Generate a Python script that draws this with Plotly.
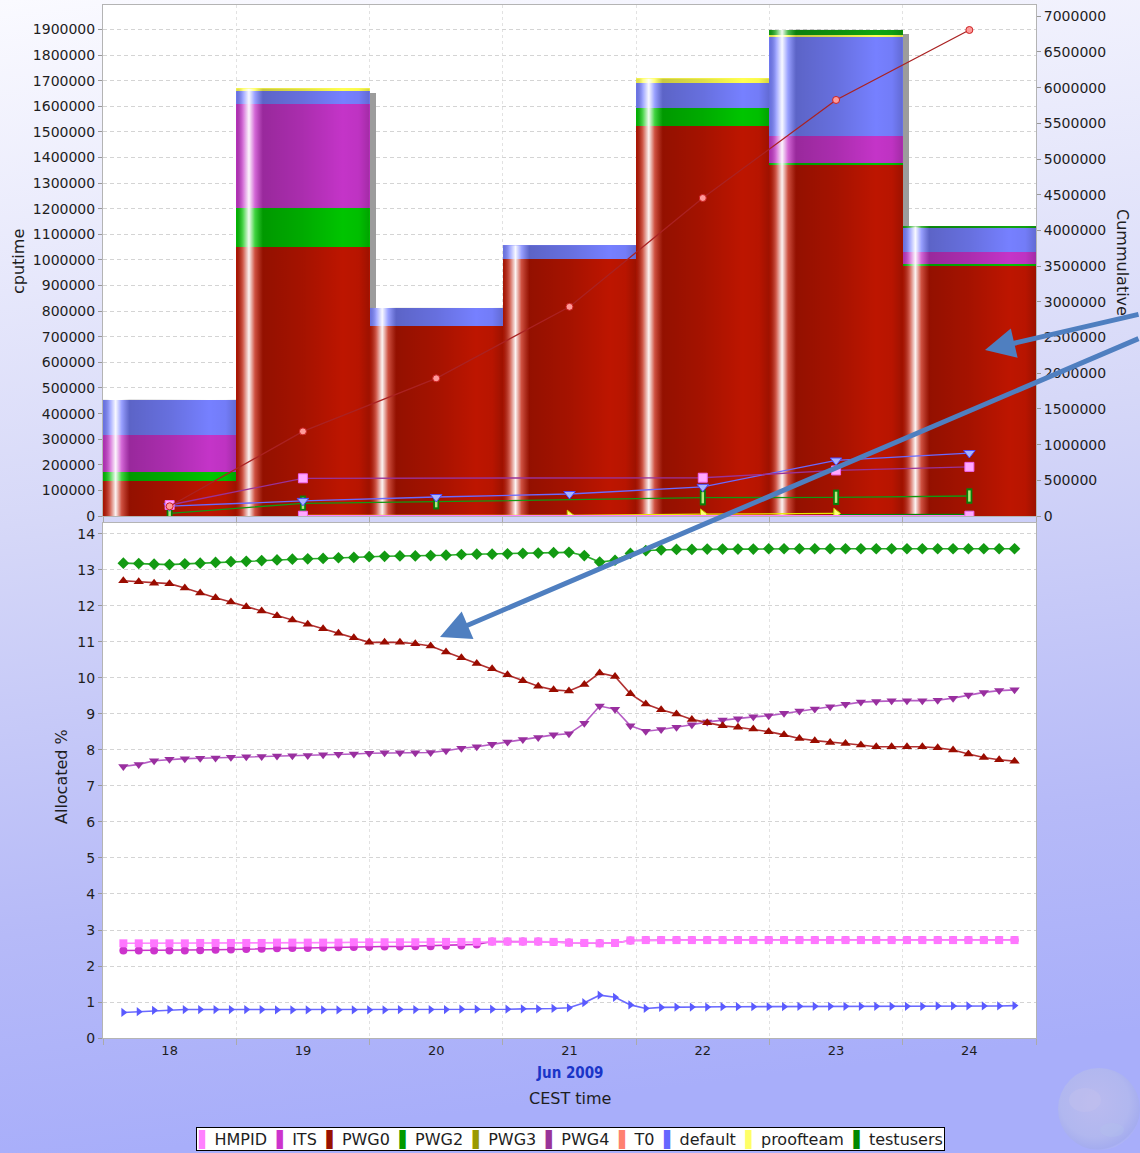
import base64
import numpy as np
import pandas as pd
import plotly.graph_objects as go

# ---------------- data ----------------
days = ['2009-06-18', '2009-06-19', '2009-06-20', '2009-06-21',
        '2009-06-22', '2009-06-23', '2009-06-24']
day_labels = ['18', '19', '20', '21', '22', '23', '24']

# daily cputime per group (stacked bars, left axis)
cpu_PWG0 = [136000, 1049000, 743000, 1002000, 1524000, 1373000, 980000]
cpu_PWG2 = [36000, 155000, 0, 0, 69000, 5000, 3000]
cpu_PWG4 = [146000, 406000, 0, 0, 0, 107000, 49000]
cpu_default = [137000, 52000, 70000, 56000, 99000, 385000, 94000]
cpu_proofteam = [0, 8000, 0, 0, 17000, 10000, 0]
cpu_testusers = [0, 0, 0, 0, 0, 20000, 6000]

# cumulative cputime (lines, right axis)
cum_PWG0 = [136000, 1185000, 1928000, 2930000, 4454000, 5827000, 6807000]
cum_PWG4 = [154000, 528000, None, None, 536000, 638000, 688000]
cum_default = [137000, 212000, 266000, 308000, 409000, 778000, 882000]
cum_PWG2 = [36000, 178000, 200000, None, 256000, 262000, 280000]
cum_proofteam = [None, 8000, None, 9000, 26000, 36000, None]
cum_testusers = [None, None, None, None, None, 20000, 24000]
cum_HMPID = [None, 4000, None, None, None, None, 4000]

# allocated share (%), one sample every ~2h46m
t_start = '2009-06-17 15:40'
n_samples = 59
alloc_PWG2 = [13.19, 13.18, 13.16, 13.15, 13.17, 13.19, 13.21, 13.23, 13.24, 13.26,
              13.28, 13.30, 13.31, 13.32, 13.34, 13.35, 13.37, 13.38, 13.39, 13.39,
              13.40, 13.41, 13.43, 13.44, 13.44, 13.45, 13.46, 13.47, 13.48, 13.49,
              13.40, 13.22, 13.27, 13.46, 13.54, 13.56, 13.57, 13.57, 13.58, 13.58,
              13.58, 13.58, 13.59, 13.59, 13.59, 13.59, 13.59, 13.59, 13.59, 13.59,
              13.59, 13.59, 13.59, 13.59, 13.59, 13.59, 13.59, 13.59, 13.59]
alloc_PWG0 = [12.70, 12.67, 12.63, 12.62, 12.50, 12.36, 12.23, 12.11, 11.98, 11.86,
              11.73, 11.61, 11.49, 11.37, 11.24, 11.12, 10.99, 10.99, 10.99, 10.95,
              10.89, 10.72, 10.56, 10.40, 10.26, 10.09, 9.92, 9.77, 9.67, 9.64,
              9.82, 10.14, 10.04, 9.56, 9.28, 9.12, 9.00, 8.85, 8.76, 8.67,
              8.63, 8.58, 8.51, 8.42, 8.32, 8.26, 8.21, 8.18, 8.14, 8.09,
              8.09, 8.09, 8.09, 8.06, 8.00, 7.89, 7.79, 7.73, 7.69]
alloc_PWG4 = [7.54, 7.60, 7.70, 7.74, 7.76, 7.77, 7.78, 7.80, 7.81, 7.82,
              7.83, 7.84, 7.85, 7.87, 7.88, 7.89, 7.91, 7.92, 7.92, 7.92,
              7.93, 7.98, 8.05, 8.09, 8.16, 8.22, 8.29, 8.35, 8.42, 8.45,
              8.74, 9.22, 9.13, 8.67, 8.52, 8.57, 8.63, 8.70, 8.78, 8.83,
              8.87, 8.92, 8.95, 9.02, 9.08, 9.14, 9.20, 9.27, 9.33, 9.35,
              9.37, 9.37, 9.37, 9.38, 9.44, 9.53, 9.60, 9.65, 9.67]
alloc_HMPID = [2.63, 2.63, 2.63, 2.63, 2.63, 2.64, 2.64, 2.64, 2.64, 2.64,
               2.65, 2.65, 2.65, 2.65, 2.65, 2.66, 2.66, 2.66, 2.66, 2.66,
               2.67, 2.67, 2.67, 2.67, 2.68, 2.68, 2.68, 2.68, 2.67, 2.65,
               2.64, 2.63, 2.64, 2.71, 2.72, 2.72, 2.72, 2.72, 2.72, 2.72,
               2.72, 2.72, 2.72, 2.72, 2.72, 2.72, 2.72, 2.72, 2.72, 2.72,
               2.72, 2.72, 2.72, 2.72, 2.72, 2.72, 2.72, 2.72, 2.72]
alloc_ITS = [2.43, 2.43, 2.43, 2.43, 2.43, 2.44, 2.45, 2.46, 2.47, 2.48,
             2.49, 2.50, 2.50, 2.51, 2.52, 2.53, 2.53, 2.54, 2.54, 2.55,
             2.55, 2.56, 2.57, 2.60, 2.68, 2.68, 2.68, 2.68, 2.67, 2.65,
             2.64, 2.63, 2.64, 2.71, 2.72, 2.72, 2.72, 2.72, 2.72, 2.72,
             2.72, 2.72, 2.72, 2.72, 2.72, 2.72, 2.72, 2.72, 2.72, 2.72,
             2.72, 2.72, 2.72, 2.72, 2.72, 2.72, 2.72, 2.72, 2.72]
alloc_default = [0.71, 0.73, 0.77, 0.79, 0.79, 0.79, 0.79, 0.79, 0.79, 0.79,
                 0.78, 0.78, 0.78, 0.78, 0.78, 0.78, 0.78, 0.78, 0.79, 0.79,
                 0.79, 0.79, 0.80, 0.80, 0.80, 0.80, 0.81, 0.81, 0.82, 0.84,
                 0.98, 1.19, 1.13, 0.92, 0.82, 0.85, 0.86, 0.86, 0.86, 0.87,
                 0.87, 0.87, 0.87, 0.87, 0.88, 0.88, 0.88, 0.88, 0.88, 0.88,
                 0.88, 0.88, 0.88, 0.89, 0.89, 0.89, 0.89, 0.89, 0.90]

legend_names = ['HMPID', 'ITS', 'PWG0', 'PWG2', 'PWG3', 'PWG4', 'T0',
                'default', 'proofteam', 'testusers']
legend_colors = ['#ff80ff', '#cc33cc', '#991100', '#009900', '#999900',
                 '#993399', '#ff8070', '#6666ff', '#ffff66', '#008800']

# ---------------- layout geometry ----------------
W, H = 1140, 1153
ML, MR, MT, MB = 103, 104, 5, 115
PW, PH = W - ML - MR, H - MT - MB


def px(xp):
    return (xp - ML) / PW


def py(yp):
    return (H - MB - yp) / PH


top_dom = [py(516), 1.0]
bot_dom = [0.0, py(523)]

day_ts = pd.to_datetime(days)
half = pd.Timedelta(hours=12)
xrange_ = [str(day_ts[0] - half), str(day_ts[-1] + half)]
sample_t = pd.date_range(t_start, periods=n_samples, freq='166min')

fig = go.Figure()

# stacked bars (explicit bases, overlay mode)
stack = [
    ('PWG0', cpu_PWG0, '#bd1500'),
    ('PWG2', cpu_PWG2, '#00c400'),
    ('PWG4', cpu_PWG4, '#c434c8'),
    ('default', cpu_default, '#7680ff'),
    ('proofteam', cpu_proofteam, '#ffff50'),
    ('testusers', cpu_testusers, '#10a410'),
]
totals = np.sum([np.array(s[1]) for s in stack], axis=0)
day_ms = 86400000

# drop shadow
fig.add_trace(go.Bar(
    x=days, y=totals - 18000, base=0, width=day_ms,
    offset=-day_ms / 2 + day_ms * 6 / 133.3,
    marker=dict(color='#9c9c9c', line=dict(width=0)),
    xaxis='x', yaxis='y', hoverinfo='skip', showlegend=False))

base = np.zeros(len(days))
for name, vals, col in stack:
    v = np.array(vals, dtype=float)
    fig.add_trace(go.Bar(
        x=days, y=v, base=base.copy(), width=day_ms, name=name,
        marker=dict(color=col, line=dict(width=0)),
        xaxis='x', yaxis='y', showlegend=False))
    base = base + v

# cylindrical shading on each bar
shade = [[0.0, 'rgba(0,0,0,0.12)'],
         [0.05, 'rgba(255,255,255,0.30)'],
         [0.095, 'rgba(255,255,255,0.95)'],
         [0.14, 'rgba(255,255,255,0.25)'],
         [0.20, 'rgba(0,0,0,0.22)'],
         [0.50, 'rgba(0,0,0,0.13)'],
         [0.80, 'rgba(0,0,0,0.0)'],
         [0.92, 'rgba(0,0,0,0.03)'],
         [1.0, 'rgba(0,0,0,0.17)']]
for d, tot in zip(day_ts, totals):
    l, r = d - half, d + half
    fig.add_trace(go.Scatter(
        x=[l, r, r, l, l], y=[0, 0, tot, tot, 0], mode='lines',
        line=dict(width=0), fill='toself',
        fillgradient=dict(type='horizontal', colorscale=shade),
        xaxis='x', yaxis='y', hoverinfo='skip', showlegend=False))

# cumulative lines (right axis)
cum_specs = [
    (cum_testusers, '#008800', 'square', '#55cc55', '#008800', 6, 1),
    (cum_proofteam, '#e8e800', 'triangle-right', '#ffff70', '#c8c800', 9, 1),
    (cum_PWG2, '#119911', 'line-ns-open', '#0a800a', '#0a800a', 11, 6),
    (cum_default, '#6a6aff', 'triangle-down', '#a8b4ff', '#4a4aff', 10, 1),
    (cum_PWG4, '#993399', 'square', '#ffa8ff', '#ee66ee', 9, 1),
    (cum_HMPID, '#ff80ff', 'square', '#ffa8ff', '#ee66ee', 9, 1),
    (cum_PWG0, '#aa2222', 'circle', '#ff9a9a', '#cc2222', 7, 1),
]
for vals, lc, sym, mc, mlc, ms, mlw in cum_specs:
    fig.add_trace(go.Scatter(
        x=days, y=vals, mode='lines+markers', connectgaps=True,
        line=dict(color=lc, width=1.3),
        marker=dict(symbol=sym, size=ms, color=mc, line=dict(color=mlc, width=mlw)),
        xaxis='x', yaxis='y2', hoverinfo='skip', showlegend=False))
    if sym == 'line-ns-open':
        # light inner fill of the bar-shaped marker
        fig.add_trace(go.Scatter(
            x=days, y=vals, mode='markers',
            marker=dict(symbol=sym, size=ms - 3, line=dict(color='#7de87d', width=2.5)),
            xaxis='x', yaxis='y2', hoverinfo='skip', showlegend=False))

# allocated % lines (bottom)
alloc_specs = [
    (alloc_ITS, '#cc33cc', 'circle', '#cc33cc', 8),
    (alloc_HMPID, '#ff88ff', 'square', '#ff77ff', 8),
    (alloc_default, '#6a6aff', 'triangle-right', '#5a5aff', 8),
    (alloc_PWG4, '#b55cc4', 'triangle-down', '#992f9f', 9),
    (alloc_PWG0, '#b03030', 'triangle-up', '#9a0c00', 9),
    (alloc_PWG2, '#2aaa2a', 'diamond', '#129a12', 9),
]
for vals, lc, sym, mc, ms in alloc_specs:
    fig.add_trace(go.Scatter(
        x=sample_t, y=vals, mode='lines+markers',
        line=dict(color=lc, width=1.6),
        marker=dict(symbol=sym, size=ms, color=mc, line=dict(width=0)),
        xaxis='x2', yaxis='y3', hoverinfo='skip', showlegend=False))

# ---------------- background image (paper gradient + globe) ----------------
svg = (
    f'<svg xmlns="http://www.w3.org/2000/svg" width="{W}" height="{H}">'
    '<defs>'
    '<linearGradient id="g" x1="0" y1="0" x2="0.12" y2="1">'
    '<stop offset="0" stop-color="#fafaff"/>'
    '<stop offset="0.45" stop-color="#d6d8f8"/>'
    '<stop offset="0.8" stop-color="#b6baf8"/>'
    '<stop offset="1" stop-color="#a8aefa"/>'
    '</linearGradient>'
    '<radialGradient id="b" cx="0.45" cy="0.42" r="0.6">'
    '<stop offset="0" stop-color="#bcbcee"/>'
    '<stop offset="0.7" stop-color="#b2b8ee"/>'
    '<stop offset="0.95" stop-color="#a4acee"/>'
    '<stop offset="1" stop-color="#b4baf6"/>'
    '</radialGradient>'
    '</defs>'
    f'<rect width="{W}" height="{H}" fill="url(#g)"/>'
    '<circle cx="1099" cy="1109" r="41" fill="url(#b)" opacity="0.9"/>'
    '<ellipse cx="1085" cy="1100" rx="16" ry="12" fill="#c6c4ee" opacity="0.35"/>'
    '<ellipse cx="1112" cy="1130" rx="12" ry="7" fill="#b4c4ea" opacity="0.3"/>'
    '</svg>')
svg_uri = 'data:image/svg+xml;base64,' + base64.b64encode(svg.encode()).decode()

tickfont = dict(family='DejaVu Sans', size=14, color='#1e1e1e')
grid = dict(showgrid=True, gridcolor='#d4d4d4', griddash='4px,3px', gridwidth=1)
vminor = dict(tick0=str(day_ts[0] - half), dtick=day_ms, ticks='outside',
              ticklen=6, tickcolor='#aaaaaa', showgrid=True,
              gridcolor='#e2e2e2', griddash='dot')

fig.update_layout(
    width=W, height=H, barmode='overlay', bargap=0,
    margin=dict(l=ML, r=MR, t=MT, b=MB),
    paper_bgcolor='#c8ccf8', plot_bgcolor='rgba(0,0,0,0)',
    showlegend=False, hovermode=False,
    images=[dict(source=svg_uri, xref='paper', yref='paper',
                 x=px(0), y=py(0), sizex=W / PW, sizey=H / PH,
                 xanchor='left', yanchor='top', sizing='stretch',
                 layer='below')],
    shapes=[
        dict(type='rect', xref='x domain', yref='y domain', x0=0, x1=1, y0=0, y1=1,
             fillcolor='white', line=dict(width=0), layer='below'),
        dict(type='rect', xref='x2 domain', yref='y3 domain', x0=0, x1=1, y0=0, y1=1,
             fillcolor='white', line=dict(width=0), layer='below'),
    ],
    xaxis=dict(domain=[0, 1], anchor='y', type='date', range=xrange_,
               tickvals=days, ticktext=['' for _ in day_labels], ticks='',
               showgrid=False, minor=vminor, showline=True, linecolor='#b4b4b4',
               mirror=True, zeroline=False),
    yaxis=dict(domain=top_dom, range=[0, 1996000], dtick=100000, tickformat='d',
               ticks='outside', ticklen=4, tickcolor='#999999', tickfont=tickfont,
               showline=True, linecolor='#b4b4b4', mirror=True, zeroline=False,
               **grid),
    yaxis2=dict(overlaying='y', side='right', range=[0, 7157000], dtick=500000,
                tickformat='d', ticks='outside', ticklen=4, tickcolor='#999999',
                tickfont=tickfont, showgrid=False, zeroline=False),
    xaxis2=dict(domain=[0, 1], anchor='y3', type='date', range=xrange_,
                tickvals=days, ticktext=day_labels, ticks='', showgrid=False,
                minor=vminor, tickfont=dict(family='DejaVu Sans', size=13, color='#1e1e1e'),
                showline=True, linecolor='#b4b4b4', mirror=True, zeroline=False),
    yaxis3=dict(domain=bot_dom, anchor='x2', range=[0, 14.305], dtick=1,
                ticks='outside', ticklen=4, tickcolor='#999999', tickfont=tickfont,
                showline=True, linecolor='#b4b4b4', mirror=True, zeroline=False,
                **grid),
)

# ---------------- texts ----------------
title_font = dict(family='DejaVu Sans', size=16, color='#1e1e1e')
ann = [
    dict(text='cputime', x=px(18), y=py(262), textangle=-90, font=title_font),
    dict(text='Cummulative', x=px(1123), y=py(262), textangle=90, font=title_font),
    dict(text='Allocated %', x=px(61), y=py(777), textangle=-90, font=title_font),
    dict(text='<b>Jun 2009</b>', x=px(570), y=py(1073),
         font=dict(family='DejaVu Sans Condensed, DejaVu Sans', size=15, color='#1a35c8')),
    dict(text='CEST time', x=px(570), y=py(1098), font=title_font),
]
legend_txt = '\u2002\u200a'.join(
    f'<span style="color:{c}">\u258c</span>\u2009{n}'
    for n, c in zip(legend_names, legend_colors))
ann.append(dict(text=legend_txt, x=px(570), y=py(1139), bgcolor='white',
                bordercolor='black', borderwidth=1, borderpad=1,
                font=dict(family='DejaVu Sans', size=16, color='#1e1e1e')))
for a in ann:
    a.update(xref='paper', yref='paper', showarrow=False,
             xanchor='center', yanchor='middle')

# decorative call-out arrows
arrow_col = '#4f7fc0'
for hx, hy, tx, ty in [(985, 350, 1150, 314), (440, 637, 1150, 338)]:
    ann.append(dict(text='', x=px(hx), y=py(hy), xref='paper', yref='paper',
                    ax=tx - hx, ay=ty - hy, showarrow=True, arrowhead=2,
                    arrowsize=1.2, arrowwidth=5, arrowcolor=arrow_col, standoff=0))
fig.update_layout(annotations=ann)

fig.write_html('out.html', config={'displayModeBar': False},
               post_script="document.body.style.margin='0px';"
                           "document.body.style.overflow='hidden';")
